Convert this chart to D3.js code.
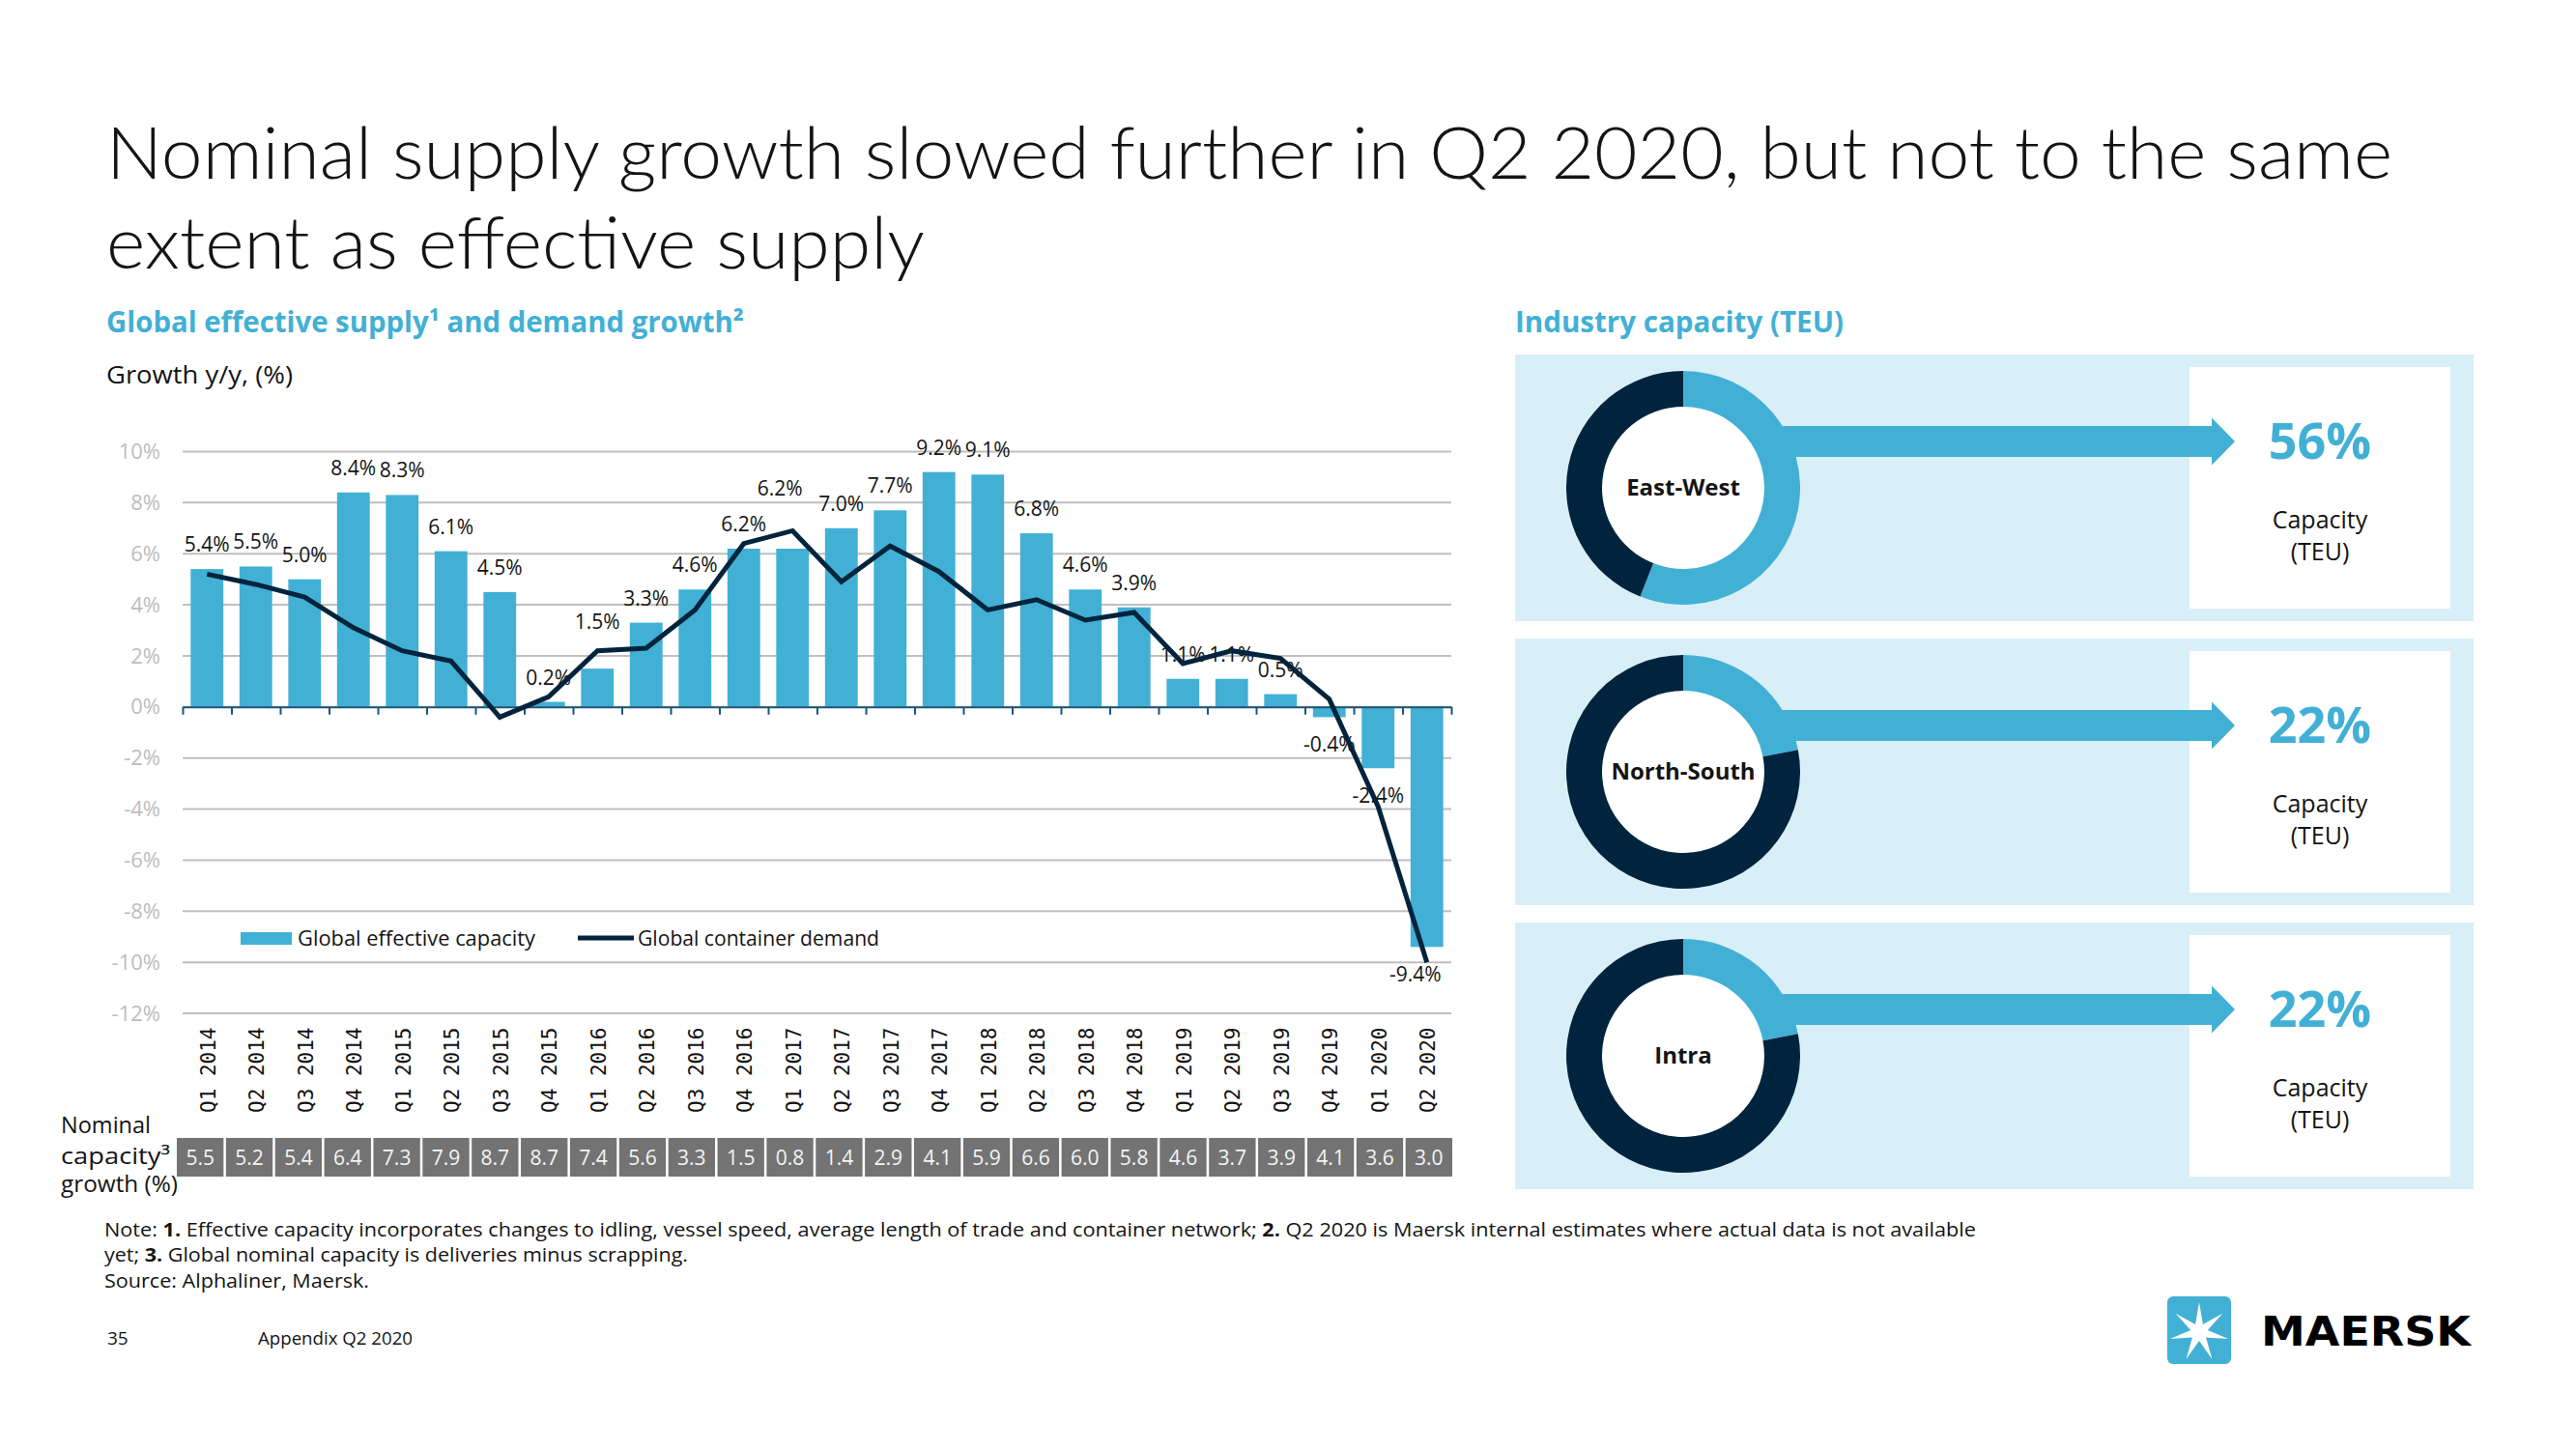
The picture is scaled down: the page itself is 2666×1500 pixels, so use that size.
<!DOCTYPE html>
<html><head><meta charset="utf-8">
<script src="https://cdn.jsdelivr.net/npm/d3@7"></script>
<style>
html,body{margin:0;padding:0;background:#fff;}
svg{display:block;}
</style></head><body>
<svg id="c" width="2666" height="1500"></svg>
<script>
// ---------------- DATA ----------------
const quarters = ["Q1 2014","Q2 2014","Q3 2014","Q4 2014","Q1 2015","Q2 2015","Q3 2015","Q4 2015",
  "Q1 2016","Q2 2016","Q3 2016","Q4 2016","Q1 2017","Q2 2017","Q3 2017","Q4 2017",
  "Q1 2018","Q2 2018","Q3 2018","Q4 2018","Q1 2019","Q2 2019","Q3 2019","Q4 2019","Q1 2020","Q2 2020"];
const effectiveCapacity = [5.4,5.5,5.0,8.4,8.3,6.1,4.5,0.2,1.5,3.3,4.6,6.2,6.2,7.0,7.7,9.2,9.1,6.8,4.6,3.9,1.1,1.1,0.5,-0.4,-2.4,-9.4];
const containerDemand = [5.2,4.8,4.3,3.1,2.2,1.8,-0.4,0.4,2.2,2.3,3.8,6.4,6.9,4.9,6.3,5.3,3.8,4.2,3.4,3.7,1.7,2.2,1.9,0.3,-3.9,-10.0];
const nominalCapacity = [5.5,5.2,5.4,6.4,7.3,7.9,8.7,8.7,7.4,5.6,3.3,1.5,0.8,1.4,2.9,4.1,5.9,6.6,6.0,5.8,4.6,3.7,3.9,4.1,3.6,3.0];
const yTickValues = [10,8,6,4,2,0,-2,-4,-6,-8,-10,-12];
const seriesNames = ["Global effective capacity","Global container demand"];
const regionNames = ["East-West","North-South","Intra"];
const regionShares = [56,22,22];

// ---------------- STYLE / LAYOUT ----------------
const BLUE = "#42b0d5", NAVY = "#00243d", TXT = "#141414";
const SANS = "'Open Sans','Noto Sans',sans-serif";
const labelNudge = {"Q1 2016":[0,-23], "Q1 2017":[-13,-37], "Q2 2020":[-12,0]};
const fmt1 = v => d3.format(".1f")(v).replace("\u2212","-");

const svg = d3.select("#c");
const fit = (sel, w) => sel.attr("textLength", w).attr("lengthAdjust", "spacingAndGlyphs");

// Title
const title = svg.append("g").attr("font-family","Lato,'Open Sans',sans-serif").attr("font-weight",300)
  .attr("font-size",74).attr("fill",TXT);
title.append("text").attr("x",110).attr("y",185)
  .text("Nominal supply growth slowed further in Q2 2020, but not to the same").call(fit,2366);
title.append("text").attr("x",110).attr("y",278).text("extent as effective supply").call(fit,847);

// Section headings
svg.append("text").attr("x",110).attr("y",344).attr("font-family",SANS).attr("font-weight",700)
  .attr("font-size",30).attr("fill",BLUE).text("Global effective supply¹ and demand growth²").call(fit,660);
svg.append("text").attr("x",110).attr("y",397).attr("font-family",SANS)
  .attr("font-size",26).attr("fill",TXT).text("Growth y/y, (%)").call(fit,193);
svg.append("text").attr("x",1568).attr("y",344).attr("font-family",SANS).attr("font-weight",700)
  .attr("font-size",30).attr("fill",BLUE).text("Industry capacity (TEU)").call(fit,340);

// ---------------- CHART ----------------
const x = d3.scaleBand().domain(quarters).range([189,1502]).paddingInner(0.33).paddingOuter(0.165);
const xc = q => x(q) + x.bandwidth()/2;
const y = d3.scaleLinear().domain([-12,10]).range([1049,467.5]);
const chart = svg.append("g");

// gridlines
chart.append("g").selectAll("line").data(yTickValues).join("line")
  .attr("x1",189).attr("x2",1502).attr("y1",d=>y(d)).attr("y2",d=>y(d))
  .attr("stroke","#bfbfbf").attr("stroke-width",2);

// y axis labels
const yAxis = chart.append("g").attr("transform","translate(189,0)")
  .call(d3.axisLeft(y).tickValues(yTickValues).tickFormat(d=>d+"%").tickSize(0).tickPadding(23));
yAxis.select(".domain").remove();
yAxis.selectAll("text").attr("font-family",SANS).attr("font-size",22).attr("fill","#bdbdbd");

// bars
chart.append("g").selectAll("rect").data(quarters).join("rect")
  .attr("x",q=>x(q)).attr("width",x.bandwidth())
  .attr("y",(q,i)=>y(Math.max(0,effectiveCapacity[i])))
  .attr("height",(q,i)=>Math.abs(y(effectiveCapacity[i])-y(0)))
  .attr("fill",BLUE);

// zero axis with ticks at band edges
const edge = d3.scaleLinear().domain([0,quarters.length]).range([189,1502]);
const zAxis = chart.append("g").attr("transform",`translate(0,${y(0)})`)
  .call(d3.axisBottom(edge).tickValues(d3.range(quarters.length+1)).tickFormat("").tickSizeInner(8).tickSizeOuter(0));
zAxis.select(".domain").attr("stroke","#1d5575").attr("stroke-width",2);
zAxis.selectAll(".tick line").attr("stroke","#1d5575").attr("stroke-width",2);

// data labels
chart.append("g").selectAll("text").data(quarters).join("text")
  .attr("x",(q)=>xc(q)+(labelNudge[q]?labelNudge[q][0]:0))
  .attr("y",(q,i)=>{const v=effectiveCapacity[i];
     return (v>=0? y(v)-18 : y(v)+36) + (labelNudge[q]?labelNudge[q][1]:0);})
  .attr("text-anchor","middle").attr("font-family",SANS).attr("font-size",21).attr("fill",TXT)
  .text((q,i)=>fmt1(effectiveCapacity[i])+"%");

// demand line
const line = d3.line().x((d,i)=>xc(quarters[i])).y(d=>y(d));
chart.append("path").datum(containerDemand).attr("d",line).attr("fill","none")
  .attr("stroke",NAVY).attr("stroke-width",5).attr("stroke-linejoin","miter");

// legend
const lg = chart.append("g").attr("font-family",SANS).attr("font-size",22).attr("fill",TXT);
lg.append("rect").attr("x",249).attr("y",965).attr("width",53).attr("height",13).attr("fill",BLUE);
lg.append("text").attr("x",308).attr("y",979).text(seriesNames[0]).call(fit,246);
lg.append("line").attr("x1",598).attr("x2",656).attr("y1",971).attr("y2",971).attr("stroke",NAVY).attr("stroke-width",5);
lg.append("text").attr("x",660).attr("y",979).text(seriesNames[1]).call(fit,250);

// category labels
chart.append("g").selectAll("text").data(quarters).join("text")
  .attr("transform",q=>`translate(${xc(q)+1},1152) rotate(-90)`)
  .attr("dy","0.36em").attr("font-family","'DejaVu Sans Mono',monospace").attr("font-size",21)
  .attr("fill","#111").text(q=>q);

// nominal capacity table
const tx = d3.scaleBand().domain(quarters).range([183,1503]).paddingInner(0.05);
const tbl = chart.append("g");
tbl.selectAll("rect").data(quarters).join("rect")
  .attr("x",q=>tx(q)).attr("width",tx.bandwidth()).attr("y",1178).attr("height",40).attr("fill","#737373");
tbl.selectAll("text").data(quarters).join("text")
  .attr("x",q=>tx(q)+tx.bandwidth()/2).attr("y",1206).attr("text-anchor","middle")
  .attr("font-family",SANS).attr("font-size",21).attr("fill","#f4f4f4")
  .text((q,i)=>fmt1(nominalCapacity[i]));
const nl = chart.append("g").attr("font-family",SANS).attr("font-size",24).attr("fill",TXT);
nl.append("text").attr("x",63).attr("y",1173).text("Nominal").call(fit,93);
nl.append("text").attr("x",63).attr("y",1205).text("capacity³").call(fit,113);
nl.append("text").attr("x",63).attr("y",1234).text("growth (%)").call(fit,121);

// ---------------- RIGHT PANEL ----------------
const pie = d3.pie().sort(null);
const arc = d3.arc().innerRadius(84).outerRadius(121);
regionNames.forEach((name,k)=>{
  const top = 367 + k*294;
  const g = svg.append("g");
  g.append("rect").attr("x",1568).attr("y",top).attr("width",992).attr("height",276).attr("fill","#d9eff7");
  g.append("rect").attr("x",2266).attr("y",top+13).attr("width",270).attr("height",250).attr("fill","#fff");
  const cx = 1742, cy = top + 138, ay = cy - 48;
  const sx = cx + 90;
  g.append("path").attr("fill",BLUE).attr("d",
    `M${sx},${ay-16}L2289,${ay-16}L2289,${ay-24.5}L2313,${ay}L2289,${ay+24.5}L2289,${ay+16}L${sx},${ay+16}Z`);
  const dg = g.append("g").attr("transform",`translate(${cx},${cy})`);
  dg.append("circle").attr("r",84).attr("fill","#fff");
  dg.selectAll("path").data(pie([regionShares[k],100-regionShares[k]])).join("path")
    .attr("d",arc).attr("fill",(d,i)=>i===0?BLUE:NAVY);
  dg.append("text").attr("y",8).attr("text-anchor","middle").attr("font-family",SANS)
    .attr("font-weight",700).attr("font-size",24).attr("fill",TXT).text(name);
  g.append("text").attr("x",2401).attr("y",top+108).attr("text-anchor","middle").attr("font-family",SANS)
    .attr("font-weight",700).attr("font-size",52).attr("fill",BLUE).text(regionShares[k]+"%");
  g.append("text").attr("x",2401).attr("y",top+180).attr("text-anchor","middle").attr("font-family",SANS)
    .attr("font-size",25).attr("fill",TXT).text("Capacity");
  g.append("text").attr("x",2401).attr("y",top+213).attr("text-anchor","middle").attr("font-family",SANS)
    .attr("font-size",25).attr("fill",TXT).text("(TEU)");
});

// ---------------- FOOTER ----------------
const ft = svg.append("g").attr("font-family",SANS).attr("font-size",20).attr("fill",TXT);
const n1 = ft.append("text").attr("x",108).attr("y",1280);
n1.append("tspan").text("Note: ");
n1.append("tspan").attr("font-weight",700).text("1.");
n1.append("tspan").text(" Effective capacity incorporates changes to idling, vessel speed, average length of trade and container network; ");
n1.append("tspan").attr("font-weight",700).text("2.");
n1.append("tspan").text(" Q2 2020 is Maersk internal estimates where actual data is not available");
n1.call(fit,1937);
const n2 = ft.append("text").attr("x",108).attr("y",1306);
n2.append("tspan").text("yet; ");
n2.append("tspan").attr("font-weight",700).text("3.");
n2.append("tspan").text(" Global nominal capacity is deliveries minus scrapping.");
n2.call(fit,604);
ft.append("text").attr("x",108).attr("y",1333).text("Source: Alphaliner, Maersk.").call(fit,274);
ft.append("text").attr("x",111).attr("y",1392).attr("font-size",19).text("35");
ft.append("text").attr("x",267).attr("y",1392).attr("font-size",19).text("Appendix Q2 2020").call(fit,160);

// Maersk logo
const logo = svg.append("g");
logo.append("rect").attr("x",2243).attr("y",1342).attr("width",66).attr("height",70).attr("rx",6).attr("fill",BLUE);
const star = d3.range(14).map(i=>{const a=-Math.PI/2+i*Math.PI/7, r=i%2?9:31;
  return [2276+r*Math.cos(a), 1379+r*Math.sin(a)];});
logo.append("path").attr("d","M"+star.join("L")+"Z").attr("fill","#fff");
logo.append("text").attr("x",2340).attr("y",1393).attr("font-family","'DejaVu Sans',sans-serif")
  .attr("font-weight",700).attr("font-size",43).attr("fill","#000").text("MAERSK").call(fit,217);
</script>
</body></html>
